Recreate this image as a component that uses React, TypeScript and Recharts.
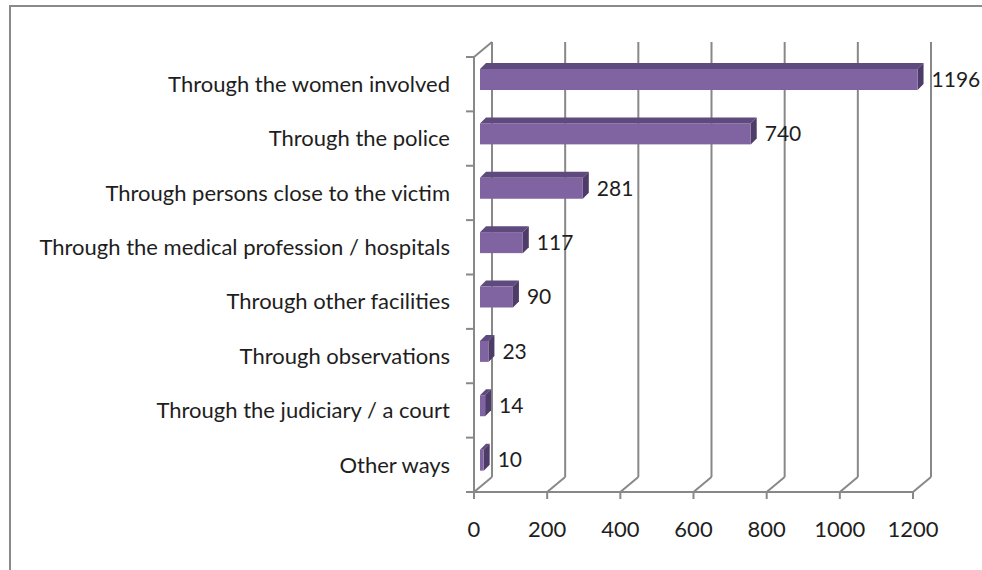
import { BarChart, Bar, XAxis, YAxis, CartesianGrid } from "recharts";

const categories = [
  "Through the women involved",
  "Through the police",
  "Through persons close to the victim",
  "Through the medical profession / hospitals",
  "Through other facilities",
  "Through observations",
  "Through the judiciary / a court",
  "Other ways",
];
const counts = [1196, 740, 281, 117, 90, 23, 14, 10];
const valueTicks = [0, 200, 400, 600, 800, 1000, 1200];

const data = categories.map((name, i) => ({ name, value: counts[i] }));

// fake 3d: back wall offset and bar depth
const WALL_DX = 18;
const WALL_DY = -15;
const BAR_DX = 6;
const BAR_DY = -5;
const BAR_DEPTH = 6;

const PLOT_TOP = 57;
const PLOT_BOTTOM = 492;
const PLOT_LEFT = 474;
const BAND = (PLOT_BOTTOM - PLOT_TOP) / categories.length;

const FONT = "Lato, 'Open Sans', sans-serif";
const AXIS_COLOR = "#888888";
const TEXT_COLOR = "#1e1e1e";

function Bar3D(props: any) {
  const { x, y, width, height } = props;
  const fx = x + BAR_DX;
  const fy = y + BAR_DY;
  const d = BAR_DEPTH;
  return (
    <g>
      <polygon
        points={`${fx},${fy} ${fx + width},${fy} ${fx + width + d},${fy - d} ${fx + d},${fy - d}`}
        fill="#5f4a7d"
      />
      <polygon
        points={`${fx + width},${fy} ${fx + width + d},${fy - d} ${fx + width + d},${fy + height - d} ${fx + width},${fy + height}`}
        fill="#4e3c68"
      />
      <rect x={fx} y={fy} width={width} height={height} fill="#8064a2" />
    </g>
  );
}

function ValueLabel(props: any) {
  const { x, y, width, height, value } = props;
  return (
    <text
      x={x + width + BAR_DX + BAR_DEPTH + 8}
      y={y + BAR_DY + height / 2}
      dy="0.35em"
      fill={TEXT_COLOR}
      fontSize={21}
      fontFamily={FONT}
    >
      {value}
    </text>
  );
}

function CategoryTick(props: any) {
  const { x, y, payload, index } = props;
  const top = y - BAND / 2;
  return (
    <g>
      <line x1={PLOT_LEFT - 8} y1={top} x2={PLOT_LEFT} y2={top} stroke={AXIS_COLOR} strokeWidth={2} />
      {index === categories.length - 1 && (
        <line
          x1={PLOT_LEFT - 8}
          y1={top + BAND}
          x2={PLOT_LEFT}
          y2={top + BAND}
          stroke={AXIS_COLOR}
          strokeWidth={2}
        />
      )}
      <text
        x={x}
        y={y}
        dy="0.35em"
        textAnchor="end"
        fill={TEXT_COLOR}
        fontSize={22}
        fontFamily={FONT}
      >
        {payload.value}
      </text>
    </g>
  );
}

function WallLine(props: any) {
  const { x1, y1, y2, index } = props;
  return (
    <g key={`wall-${index}`}>
      <line
        x1={x1 + WALL_DX}
        y1={y1 + WALL_DY}
        x2={x1 + WALL_DX}
        y2={y2 + WALL_DY}
        stroke={AXIS_COLOR}
        strokeWidth={2}
      />
      <line x1={x1} y1={y2} x2={x1 + WALL_DX} y2={y2 + WALL_DY} stroke={AXIS_COLOR} strokeWidth={2} />
      {index === 0 && (
        <line x1={x1} y1={y1} x2={x1 + WALL_DX} y2={y1 + WALL_DY} stroke={AXIS_COLOR} strokeWidth={2} />
      )}
    </g>
  );
}

export default function App() {
  return (
    <div
      style={{
        position: "absolute",
        left: 0,
        top: 0,
        width: 982,
        height: 570,
        overflow: "hidden",
        background: "#fff",
      }}
    >
      <div
        style={{
          position: "absolute",
          left: 9,
          top: 5,
          width: 1000,
          height: 600,
          borderTop: "2px solid #8a8a8a",
          borderLeft: "2px solid #8a8a8a",
        }}
      />
      <div style={{ position: "absolute", left: 0, top: 0 }}>
        <BarChart
          width={982}
          height={570}
          data={data}
          layout="vertical"
          margin={{ top: PLOT_TOP, right: 69, bottom: 18, left: 0 }}
        >
          <CartesianGrid horizontal={false} vertical={WallLine} />
          <XAxis
            type="number"
            domain={[0, 1200]}
            ticks={valueTicks}
            height={60}
            axisLine={{ stroke: AXIS_COLOR, strokeWidth: 2 }}
            tickLine={{ stroke: AXIS_COLOR, strokeWidth: 2 }}
            tickSize={7}
            tickMargin={22}
            tick={{ fill: TEXT_COLOR, fontSize: 22, fontFamily: FONT }}
          />
          <YAxis
            type="category"
            dataKey="name"
            width={PLOT_LEFT}
            interval={0}
            axisLine={{ stroke: AXIS_COLOR, strokeWidth: 2 }}
            tickLine={false}
            tickSize={8}
            tickMargin={16}
            tick={CategoryTick}
          />
          <Bar
            dataKey="value"
            barSize={21}
            shape={Bar3D}
            label={ValueLabel}
            isAnimationActive={false}
          />
        </BarChart>
      </div>
    </div>
  );
}
